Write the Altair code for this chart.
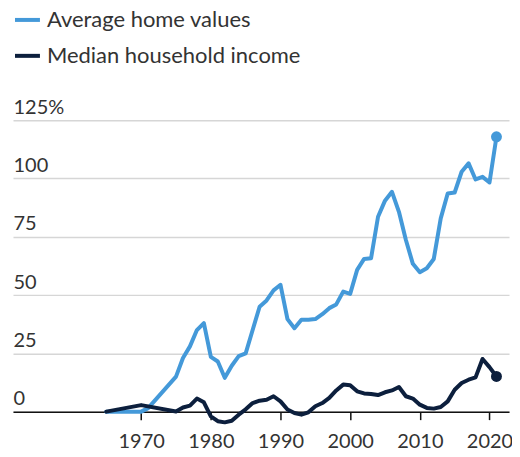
import altair as alt
import pandas as pd

series_names = ["Average home values", "Median household income"]
series_colors = ["#4499d9", "#0c1f3d"]

home_years = [1965, 1970, 1971, 1975, 1976, 1977, 1978, 1979, 1980, 1981, 1982, 1983, 1984,
              1985, 1986, 1987, 1988, 1989, 1990, 1991, 1992, 1993, 1994, 1995, 1996, 1997,
              1998, 1999, 2000, 2001, 2002, 2003, 2004, 2005, 2006, 2007, 2008, 2009, 2010,
              2011, 2012, 2013, 2014, 2015, 2016, 2017, 2018, 2019, 2020, 2021]
home_values = [0, 0, 1.5, 15, 23, 28, 35, 38, 23.5, 21.5, 14.5, 19.7, 23.8,
               25, 35, 45, 47.7, 52, 54.4, 39.7, 35.8, 39.4, 39.4, 39.7, 41.8, 44.4,
               46, 51.5, 50.5, 60.8, 65.5, 65.8, 83.6, 90.5, 94.3, 85.7, 73.6, 63.4, 59.8,
               61.5, 65.5, 82.9, 93.6, 94, 102.9, 106.5, 99.6, 100.7, 98.3, 117.9]

income_years = [1965, 1970, 1975, 1976, 1977, 1978, 1979, 1980, 1981, 1982, 1983, 1984,
                1985, 1986, 1987, 1988, 1989, 1990, 1991, 1992, 1993, 1994, 1995, 1996, 1997,
                1998, 1999, 2000, 2001, 2002, 2003, 2004, 2005, 2006, 2007, 2008, 2009, 2010,
                2011, 2012, 2013, 2014, 2015, 2016, 2017, 2018, 2019, 2020, 2021]
income_values = [0, 2.8, 0.1, 1.8, 2.6, 5.6, 4.0, -2.0, -4.1, -4.6, -3.9, -1.3,
                 1.0, 3.7, 4.7, 5.1, 6.6, 4.4, 0.9, -0.6, -1.3, -0.3, 2.3, 3.7, 5.9,
                 9.1, 11.6, 11.3, 8.7, 7.8, 7.6, 7.1, 8.3, 9.1, 10.6, 6.6, 5.6, 3.0,
                 1.6, 1.3, 2.0, 4.4, 9.4, 12.3, 13.7, 14.7, 22.6, 19.1, 15.1]

x_ticks = [1970, 1980, 1990, 2000, 2010, 2020]
y_ticks = [0, 25, 50, 75, 100, 125]

df = pd.concat([
    pd.DataFrame({"year": home_years, "value": home_values, "series": series_names[0]}),
    pd.DataFrame({"year": income_years, "value": income_values, "series": series_names[1]}),
], ignore_index=True)
last = df[df["year"] == 2021]

FONT = "Lato"
TXT = "#333333"

x_enc = alt.X("year:Q",
              scale=alt.Scale(domain=[1951.6, 2022.8], nice=False, zero=False),
              axis=alt.Axis(values=x_ticks, format="d", title=None, grid=False,
                            tickSize=8, tickColor="#111111", tickWidth=1.5,
                            domainColor="#111111", domainWidth=1.5,
                            labelFontSize=20, labelFont=FONT, labelColor=TXT,
                            labelPadding=12, labelFlush=False))
y_enc = alt.Y("value:Q",
              scale=alt.Scale(domain=[0, 125], nice=False, zero=False),
              axis=alt.Axis(values=y_ticks, title=None, domain=False, ticks=False,
                            tickSize=0, labelAlign="left", labelPadding=0,
                            labelBaseline="alphabetic", labelOffset=-7,
                            labelFontSize=20, labelFont=FONT, labelColor=TXT,
                            gridColor="#d6d6d6", gridWidth=1.5,
                            labelExpr="datum.value == 125 ? '125%' : datum.label"))

lines = alt.Chart(df).mark_line(strokeWidth=4, strokeJoin="round", strokeCap="round").encode(
    x=x_enc, y=y_enc,
    color=alt.Color("series:N",
                    scale=alt.Scale(domain=series_names, range=series_colors),
                    legend=alt.Legend(title=None, orient="none", legendX=0, legendY=-115,
                                      direction="vertical", symbolType="stroke",
                                      symbolStrokeWidth=4, symbolSize=625,
                                      labelFontSize=22, labelFont=FONT, labelColor=TXT,
                                      labelOffset=5, rowPadding=10, labelLimit=500)),
    detail="series:N",
)

points = alt.Chart(last).mark_circle(size=120, opacity=1).encode(
    x=alt.X("year:Q"), y=alt.Y("value:Q"),
    fill=alt.Fill("series:N", scale=alt.Scale(domain=series_names, range=series_colors),
                  legend=None),
)

chart = alt.layer(lines, points).properties(
    width=497, height=292,
    autosize=alt.AutoSizeParams(type="none"),
    padding={"left": 5, "top": 112, "right": 3, "bottom": 45},
).configure_view(stroke=None)

chart.save("out.html", embed_options={"renderer": "svg", "actions": False})
